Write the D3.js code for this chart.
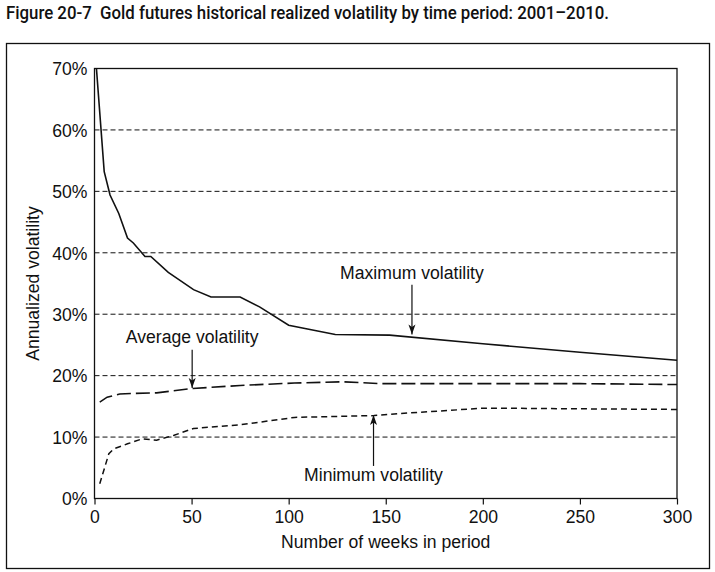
<!DOCTYPE html>
<html>
<head>
<meta charset="utf-8">
<script src="https://cdn.jsdelivr.net/npm/d3@7/dist/d3.min.js"></script>
<style>
  html, body { margin: 0; padding: 0; background: #fff; }
  svg { display: block; }
  text { font-family: "Liberation Sans", Arial, sans-serif; fill: #111; }
</style>
</head>
<body>
<svg id="chart" width="715" height="572"></svg>
<script>
// ---- Data ----
const maxWeeks = [1, 5, 8, 12.5, 17, 20, 26, 29, 38, 51, 60, 75, 85, 100, 111, 124, 152, 200, 250, 300];
const maxVol   = [70, 53.2, 49.4, 46.4, 42.4, 41.6, 39.4, 39.4, 36.8, 34.0, 32.8, 32.8, 31.2, 28.2, 27.5, 26.7, 26.6, 25.2, 23.8, 22.5];

const avgWeeks = [2.7, 6.5, 13, 20, 32, 50, 75, 103, 128, 147, 161, 200, 250, 300];
const avgVol   = [15.7, 16.5, 17.0, 17.1, 17.2, 17.9, 18.4, 18.8, 19.0, 18.7, 18.7, 18.7, 18.7, 18.55];

const minWeeks = [2.7, 7.4, 10, 17, 24.5, 32, 41, 51, 75, 103, 144, 161, 200, 210, 250, 300];
const minVol   = [2.4, 7.3, 8.1, 8.9, 9.7, 9.5, 10.3, 11.4, 12.0, 13.2, 13.5, 13.9, 14.7, 14.7, 14.6, 14.5];

const xTicks = [0, 50, 100, 150, 200, 250, 300];
const yTicks = [0, 10, 20, 30, 40, 50, 60, 70];

const titleText = "Figure 20-7  Gold futures historical realized volatility by time period: 2001\u20132010.";
const xTitle = "Number of weeks in period";
const yTitle = "Annualized volatility";

// annotations: label, week, arrow tail / head volatility
const annLabels = ["Maximum volatility", "Average volatility", "Minimum volatility"];
const annWeeks  = [163.5, 50.3, 143.7];
const annTail   = [34.8, 24.2, 5.3];
const annHead   = [26.7, 18.0, 13.6];

// ---- Drawing ----
const FS = "17.6px";
const svg = d3.select("#chart");
const x = d3.scaleLinear().domain([0, 300]).range([94.5, 677]);
const y = d3.scaleLinear().domain([0, 70]).range([498.5, 68.5]);

svg.append("defs").append("marker")
  .attr("id", "arr").attr("viewBox", "0 0 10 10")
  .attr("refX", 10).attr("refY", 5)
  .attr("markerWidth", 10).attr("markerHeight", 10)
  .attr("markerUnits", "userSpaceOnUse")
  .attr("orient", "auto")
  .append("path").attr("d", "M0,1.5 L10,5 L0,8.5 L2.5,5 Z").attr("fill", "#111");

// title
svg.append("text").attr("x", 6).attr("y", 19)
  .attr("xml:space", "preserve").style("white-space", "pre")
  .attr("textLength", 603).attr("lengthAdjust", "spacingAndGlyphs")
  .style("font-family", "Roboto, 'Liberation Sans Narrow', sans-serif")
  .style("font-weight", 500).style("font-size", "18px")
  .text(titleText);

// outer frame
svg.append("rect").attr("x", 6.5).attr("y", 43.5).attr("width", 703).attr("height", 525)
  .attr("fill", "none").attr("stroke", "#111").attr("stroke-width", 1.3);

// grid lines
svg.append("g").selectAll("line").data(yTicks.filter(d => d > 0 && d < 70)).join("line")
  .attr("x1", x(0)).attr("x2", x(300))
  .attr("y1", d => y(d)).attr("y2", d => y(d))
  .attr("stroke", "#111").attr("stroke-width", 1)
  .attr("stroke-dasharray", "5,3");

// plot border
svg.append("rect").attr("x", x(0)).attr("y", y(70)).attr("width", x(300) - x(0)).attr("height", y(0) - y(70))
  .attr("fill", "none").attr("stroke", "#111").attr("stroke-width", 1.3);

// axes
const xAxis = d3.axisBottom(x).tickValues(xTicks).tickSize(6).tickPadding(6).tickFormat(d3.format("d"));
const gx = svg.append("g").attr("transform", `translate(0,${y(0)})`).call(xAxis);
gx.select(".domain").remove();
gx.selectAll("line").attr("stroke", "#111").attr("stroke-width", 1.2);
gx.selectAll("text").style("font-size", FS).attr("fill", "#111")
  .style("font-family", "'Liberation Sans', Arial, sans-serif").attr("dy", "0.75em").attr("y", 11);

const yAxis = d3.axisLeft(y).tickValues(yTicks).tickSize(0).tickPadding(7).tickFormat(d => d + "%");
const gy = svg.append("g").attr("transform", `translate(${x(0)},0)`).call(yAxis);
gy.select(".domain").remove();
gy.selectAll("text").style("font-size", FS).attr("fill", "#111")
  .style("font-family", "'Liberation Sans', Arial, sans-serif").attr("dy", "0.36em");

// axis titles
svg.append("text").attr("x", (x(0) + x(300)) / 2).attr("y", 548)
  .attr("text-anchor", "middle").style("font-size", FS).text(xTitle);
svg.append("text").attr("transform", `translate(39,${(y(0) + y(70)) / 2}) rotate(-90)`)
  .attr("text-anchor", "middle").style("font-size", FS).text(yTitle);

// lines
const line = d3.line().x(d => x(d[0])).y(d => y(d[1]));
function draw(ws, vs, dash, w) {
  svg.append("path").datum(ws.map((w0, i) => [w0, vs[i]]))
    .attr("d", line).attr("fill", "none").attr("stroke", "#111")
    .attr("stroke-width", w).attr("stroke-dasharray", dash);
}
draw(maxWeeks, maxVol, null, 1.6);
draw(avgWeeks, avgVol, "14,5", 1.6);
draw(minWeeks, minVol, "6,4", 1.5);

// annotations
const labelY = [279, 343, 481];
annLabels.forEach((lab, i) => {
  svg.append("text").attr("x", x(annWeeks[i])).attr("y", labelY[i])
    .attr("text-anchor", "middle").style("font-size", FS).text(lab);
  svg.append("line")
    .attr("x1", x(annWeeks[i])).attr("x2", x(annWeeks[i]))
    .attr("y1", y(annTail[i])).attr("y2", y(annHead[i]))
    .attr("stroke", "#111").attr("stroke-width", 1.2)
    .attr("marker-end", "url(#arr)");
});
</script>
</body>
</html>
